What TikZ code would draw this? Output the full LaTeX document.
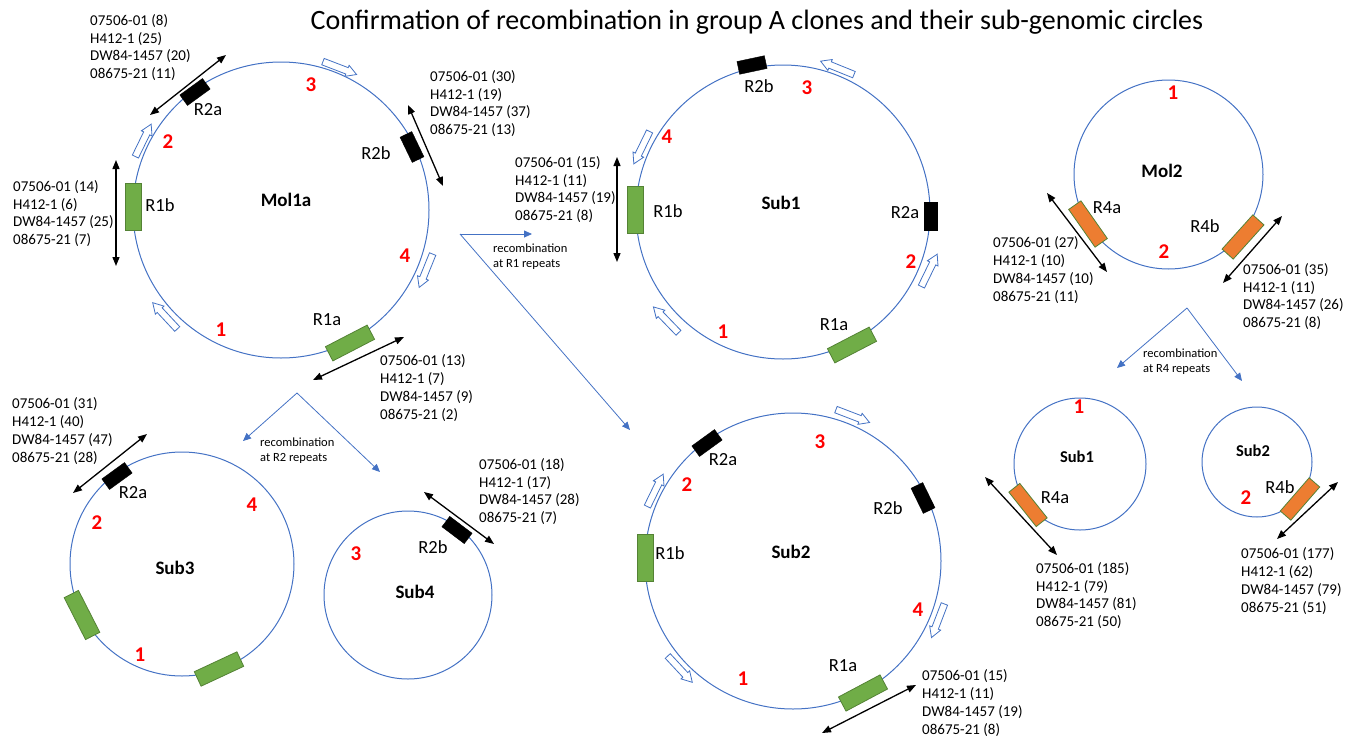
\documentclass[tikz,border=0pt]{standalone}
\usepackage{fontspec}
\setmainfont{Carlito}
\usetikzlibrary{arrows.meta, shapes.arrows}
\definecolor{ringblue}{RGB}{68,114,196}
\definecolor{repgreen}{RGB}{112,173,71}
\definecolor{repedge}{RGB}{84,130,53}
\definecolor{reporange}{RGB}{237,125,49}
\tikzset{
  ring/.style={circle, draw=ringblue, line width=1pt, inner sep=0pt, minimum size=#1},
  molname/.style={font=\fontsize{19}{22}\selectfont\bfseries},
  smallname/.style={font=\fontsize{16.5}{20}\selectfont\bfseries},
  segnum/.style={text=red, font=\fontsize{21}{24}\selectfont\bfseries},
  replabel/.style={font=\fontsize{18.5}{22}\selectfont},
  counts/.style={font=\fontsize{15}{17.7}\selectfont, align=left, anchor=west, inner sep=0pt},
  repone/.style={draw=repedge, fill=repgreen, line width=0.8pt, minimum width=47pt, minimum height=16pt, inner sep=0pt},
  reptwo/.style={draw=black, fill=black, minimum width=28pt, minimum height=13pt, inner sep=0pt},
  repfour/.style={draw=repedge, fill=reporange, line width=0.8pt, minimum width=46pt, minimum height=15pt, inner sep=0pt},
  dirarrow/.style={single arrow, draw=ringblue, fill=white, line width=0.8pt, minimum height=36pt,
    inner sep=3pt, single arrow head extend=2.5pt, single arrow tip angle=60},
  pairarrow/.style={line width=1.3pt, {Triangle[length=9pt,width=7pt]}-{Triangle[length=9pt,width=7pt]}},
  recomb/.style={draw=ringblue, line width=0.8pt, -{Triangle[length=8pt,width=7pt]}},
  recomblabel/.style={font=\fontsize{12.5}{15}\selectfont, align=left, anchor=west, inner sep=0pt}
}
\begin{document}
\begin{tikzpicture}[x=1pt, y=-1pt]
\useasboundingbox (0,0) rectangle (1361,742);
\node[anchor=base, font=\fontsize{28}{32}\selectfont] (title) at (757,29.5)
  {Confirmation of recombination in group A clones and their sub-genomic circles};

% Mol1a
\node[ring=296pt] (mol1a) at (281,210) {};
\node[molname] (mol1a-t) at (286,200) {Mol1a};
\node[reptwo, rotate=36] (mol1a-r2a) at (195,92) {};
\node[replabel] (mol1a-r2a-t) at (208,110) {R2a};
\node[reptwo, rotate=115.7] (mol1a-r2b) at (412,147) {};
\node[replabel] (mol1a-r2b-t) at (376,153) {R2b};
\node[repone, rotate=90] (mol1a-r1b) at (133,207) {};
\node[replabel] (mol1a-r1b-t) at (160,205) {R1b};
\node[repone, rotate=27.4] (mol1a-r1a) at (350,343) {};
\node[replabel] (mol1a-r1a-t) at (327,320) {R1a};
\node[segnum] (mol1a-s3) at (311,85) {3};
\node[segnum] (mol1a-s2) at (168,142) {2};
\node[segnum] (mol1a-s4) at (405,256) {4};
\node[segnum] (mol1a-s1) at (221,330) {1};
\node[dirarrow, rotate=-21] (mol1a-d1) at (337,67) {};
\node[dirarrow, rotate=64] (mol1a-d2) at (142,143) {};
\node[dirarrow, rotate=-112] (mol1a-d3) at (427,268) {};
\node[dirarrow, rotate=133] (mol1a-d4) at (167,318) {};

% Sub1
\node[ring=294pt] (sub1) at (783,212) {};
\node[molname] (sub1-t) at (781,203) {Sub1};
\node[reptwo, rotate=12] (sub1-r2b) at (752,65) {};
\node[replabel] (sub1-r2b-t) at (759,86) {R2b};
\node[reptwo, rotate=90] (sub1-r2a) at (931,216) {};
\node[replabel] (sub1-r2a-t) at (905,213) {R2a};
\node[repone, rotate=90] (sub1-r1b) at (635,210) {};
\node[replabel] (sub1-r1b-t) at (668,211) {R1b};
\node[repone, rotate=27.4] (sub1-r1a) at (852,345) {};
\node[replabel] (sub1-r1a-t) at (834,325) {R1a};
\node[segnum] (sub1-s3) at (807,88) {3};
\node[segnum] (sub1-s4) at (667,137) {4};
\node[segnum] (sub1-s2) at (911,262) {2};
\node[segnum] (sub1-s1) at (723,332) {1};
\node[dirarrow, rotate=158] (sub1-d1) at (840,69) {};
\node[dirarrow, rotate=-116] (sub1-d2) at (643,145) {};
\node[dirarrow, rotate=64] (sub1-d3) at (928,273) {};
\node[dirarrow, rotate=134] (sub1-d4) at (668,322) {};

% Sub2
\node[ring=296pt] (sub2) at (793,561) {};
\node[molname] (sub2-t) at (791,552) {Sub2};
\node[reptwo, rotate=36] (sub2-r2a) at (707,443) {};
\node[replabel] (sub2-r2a-t) at (723,460) {R2a};
\node[reptwo, rotate=116] (sub2-r2b) at (923,498) {};
\node[replabel] (sub2-r2b-t) at (888,508) {R2b};
\node[repone, rotate=90] (sub2-r1b) at (645,558) {};
\node[replabel] (sub2-r1b-t) at (670,553) {R1b};
\node[repone, rotate=28] (sub2-r1a) at (863,693) {};
\node[replabel] (sub2-r1a-t) at (843,666) {R1a};
\node[segnum] (sub2-s3) at (820,442) {3};
\node[segnum] (sub2-s2) at (687,485) {2};
\node[segnum] (sub2-s4) at (918,610) {4};
\node[segnum] (sub2-s1) at (743,679) {1};
\node[dirarrow, rotate=-21] (sub2-d1) at (850,415) {};
\node[dirarrow, rotate=64] (sub2-d2) at (654,493) {};
\node[dirarrow, rotate=-111] (sub2-d3) at (939,618) {};
\node[dirarrow, rotate=-47] (sub2-d4) at (678,667) {};

% Sub3 and Sub4
\node[ring=224pt] (sub3) at (182,564) {};
\node[molname] (sub3-t) at (175,568) {Sub3};
\node[reptwo, rotate=36] (sub3-r2a) at (117,476) {};
\node[replabel] (sub3-r2a-t) at (133,493) {R2a};
\node[repone, rotate=-63] (sub3-r1x) at (82,615) {};
\node[repone, rotate=25] (sub3-r1y) at (219,669) {};
\node[segnum] (sub3-s2) at (97,523) {2};
\node[segnum] (sub3-s4) at (252,505) {4};
\node[segnum] (sub3-s1) at (140,655) {1};
\node[ring=168pt] (sub4) at (408,595) {};
\node[molname] (sub4-t) at (415,592) {Sub4};
\node[reptwo, rotate=-37] (sub4-r2b) at (457,530) {};
\node[replabel] (sub4-r2b-t) at (433,547) {R2b};
\node[segnum] (sub4-s3) at (356,554) {3};

% Mol2 and its sub-circles
\node[ring=189pt] (mol2) at (1168.5,174.5) {};
\node[molname] (mol2-t) at (1162,171) {Mol2};
\node[repfour, rotate=-55] (mol2-r4a) at (1088,224) {};
\node[replabel] (mol2-r4a-t) at (1107,208) {R4a};
\node[repfour, rotate=48] (mol2-r4b) at (1243,237) {};
\node[replabel] (mol2-r4b-t) at (1205,226) {R4b};
\node[segnum] (mol2-s1) at (1173,93) {1};
\node[segnum] (mol2-s2) at (1164,252) {2};
\node[ring=132pt] (msub1) at (1080,464) {};
\node[smallname] (msub1-t) at (1077,457) {Sub1};
\node[repfour, minimum width=44pt, minimum height=14pt, rotate=-51.5] (msub1-r4a) at (1028,505) {};
\node[replabel] (msub1-r4a-t) at (1055,498) {R4a};
\node[segnum] (msub1-s1) at (1079,407) {1};
\node[ring=110pt] (msub2) at (1257,462) {};
\node[smallname] (msub2-t) at (1253,451) {Sub2};
\node[repfour, minimum width=44pt, minimum height=14pt, rotate=49] (msub2-r4b) at (1300,499) {};
\node[replabel] (msub2-r4b-t) at (1280,487) {R4b};
\node[segnum] (msub2-s2) at (1246,498) {2};

% read counts
\coordinate (p1a) at (150,115);   \coordinate (p1b) at (226,55);
\coordinate (p2a) at (408,105);   \coordinate (p2b) at (443,186);
\coordinate (p3a) at (116,160);   \coordinate (p3b) at (116,266);
\coordinate (p4a) at (313,380);   \coordinate (p4b) at (404,337);
\coordinate (p5a) at (617,157);   \coordinate (p5b) at (617,262);
\coordinate (p6a) at (1047,193);  \coordinate (p6b) at (1107,272);
\coordinate (p7a) at (1223,283);  \coordinate (p7b) at (1282,216);
\coordinate (p8a) at (73,493);    \coordinate (p8b) at (147,434);
\coordinate (p9a) at (424,492);   \coordinate (p9b) at (494,544);
\coordinate (p10a) at (822,733);  \coordinate (p10b) at (916,685);
\coordinate (p11a) at (985,477);  \coordinate (p11b) at (1057,555);
\coordinate (p12a) at (1277,539); \coordinate (p12b) at (1338,482);
\draw[pairarrow] (p1a) -- (p1b);
\draw[pairarrow] (p2a) -- (p2b);
\draw[pairarrow] (p3a) -- (p3b);
\draw[pairarrow] (p4a) -- (p4b);
\draw[pairarrow] (p5a) -- (p5b);
\draw[pairarrow] (p6a) -- (p6b);
\draw[pairarrow] (p7a) -- (p7b);
\draw[pairarrow] (p8a) -- (p8b);
\draw[pairarrow] (p9a) -- (p9b);
\draw[pairarrow] (p10a) -- (p10b);
\draw[pairarrow] (p11a) -- (p11b);
\draw[pairarrow] (p12a) -- (p12b);
\node[counts] (c1) at (90,47.5) {07506-01 (8)\\H412-1 (25)\\DW84-1457 (20)\\08675-21 (11)};
\node[counts] (c2) at (430,103.5) {07506-01 (30)\\H412-1 (19)\\DW84-1457 (37)\\08675-21 (13)};
\node[counts] (c3) at (13,213.5) {07506-01 (14)\\H412-1 (6)\\DW84-1457 (25)\\08675-21 (7)};
\node[counts] (c4) at (380,388) {07506-01 (13)\\H412-1 (7)\\DW84-1457 (9)\\08675-21 (2)};
\node[counts] (c5) at (515,189.5) {07506-01 (15)\\H412-1 (11)\\DW84-1457 (19)\\08675-21 (8)};
\node[counts] (c6) at (993,270) {07506-01 (27)\\H412-1 (10)\\DW84-1457 (10)\\08675-21 (11)};
\node[counts] (c7) at (1243,296.5) {07506-01 (35)\\H412-1 (11)\\DW84-1457 (26)\\08675-21 (8)};
\node[counts] (c8) at (12,431) {07506-01 (31)\\H412-1 (40)\\DW84-1457 (47)\\08675-21 (28)};
\node[counts] (c9) at (479,491.5) {07506-01 (18)\\H412-1 (17)\\DW84-1457 (28)\\08675-21 (7)};
\node[counts] (c10) at (922,703) {07506-01 (15)\\H412-1 (11)\\DW84-1457 (19)\\08675-21 (8)};
\node[counts] (c11) at (1036,595.5) {07506-01 (185)\\H412-1 (79)\\DW84-1457 (81)\\08675-21 (50)};
\node[counts] (c12) at (1241,581) {07506-01 (177)\\H412-1 (62)\\DW84-1457 (79)\\08675-21 (51)};

% recombination steps
\coordinate (rc1) at (460,234);  \coordinate (rc1a) at (532,234);  \coordinate (rc1b) at (630,430);
\coordinate (rc2) at (297,393);  \coordinate (rc2a) at (243,441);  \coordinate (rc2b) at (380,472);
\coordinate (rc4) at (1187,308); \coordinate (rc4a) at (1117,368); \coordinate (rc4b) at (1242,381);
\draw[recomb] (rc1) -- (rc1a);
\draw[recomb] (rc1) -- (rc1b);
\draw[recomb] (rc2) -- (rc2a);
\draw[recomb] (rc2) -- (rc2b);
\draw[recomb] (rc4) -- (rc4a);
\draw[recomb] (rc4) -- (rc4b);
\node[recomblabel] (rl1) at (493,256.5) {recombination\\at R1 repeats};
\node[recomblabel] (rl2) at (260,451) {recombination\\at R2 repeats};
\node[recomblabel] (rl4) at (1143,361.5) {recombination\\at R4 repeats};
\end{tikzpicture}
\end{document}
